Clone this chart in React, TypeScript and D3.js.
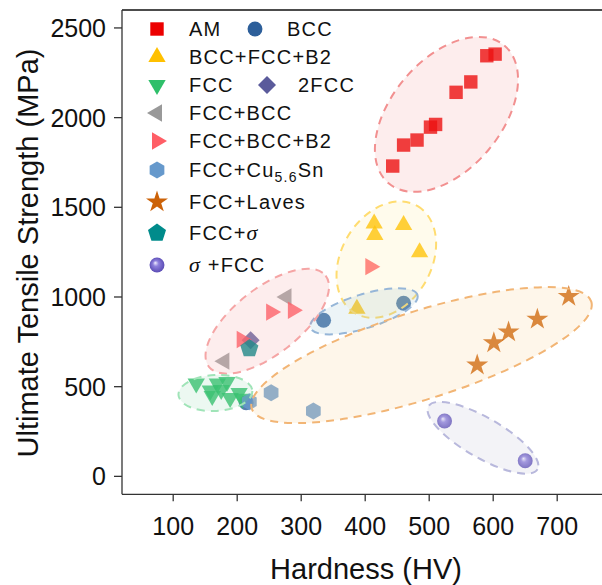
import * as d3 from 'd3'

const W = 602
const H = 585
const FONT = '"Liberation Sans", Arial, sans-serif'

// axes
const X_DOMAIN = [20, 780]
const Y_DOMAIN = [-100, 2600]
const X_TICKS = [100, 200, 300, 400, 500, 600, 700]
const Y_TICKS = [0, 500, 1000, 1500, 2000, 2500]

// series values (HV, MPa)
const AM_HV = [443, 460, 481, 502, 510, 542, 565, 590, 603]
const AM_UTS = [1730, 1847, 1875, 1947, 1962, 2141, 2199, 2345, 2354]
const BCC_HV = [214, 335, 460]
const BCC_UTS = [410, 870, 965]
const BFB2_HV = [414, 415, 460, 485, 387]
const BFB2_UTS = [1410, 1346, 1401, 1249, 935]
const FCC_HV = [136, 158, 169, 184, 161, 175, 189, 203, 208]
const FCC_UTS = [518, 479, 518, 526, 448, 482, 437, 465, 432]
const FCC2_HV = [221]
const FCC2_UTS = [759]
const FB_HV = [277, 180]
const FB_UTS = [1000, 642]
const FBB2_HV = [207, 253, 287, 408]
const FBB2_UTS = [763, 916, 926, 1169]
const CUSN_HV = [219, 253, 319]
const CUSN_UTS = [416, 466, 365]
const LAVES_HV = [575, 601, 624, 669, 718]
const LAVES_UTS = [620, 744, 805, 876, 1003]
const FSIG_HV = [219]
const FSIG_UTS = [713]
const SIGF_HV = [524, 650]
const SIGF_UTS = [309, 87]

// group outlines: centre in data units, radii (px) and tilt (deg)
const GROUP_HV = [527, 433, 398, 247, 166, 488, 584]
const GROUP_UTS = [2018, 1208, 920, 865, 465, 676, 215]
const GROUP_RX = [90, 62, 56, 74, 37, 178, 63]
const GROUP_RY = [55, 45, 17, 33, 18, 44, 20]
const GROUP_TILT = [-50, -60, -17, -38, -3, -17.5, 30]
const GROUP_FILL = ['#f08080', '#ffe066', '#88b8cc', '#f08080', '#80d0a0', '#f8b860', '#a0a0c0']
const GROUP_FILL_OP = [0.14, 0.12, 0.16, 0.14, 0.15, 0.13, 0.12]
const GROUP_STROKE = ['#f29090', '#ffdc70', '#96b6d8', '#f5a5a5', '#a0e4b8', '#f2b575', '#b8b8dc']

const x = d3.scaleLinear().domain(X_DOMAIN).range([122, 122 + 760 * 0.64])
const y = d3.scaleLinear().domain(Y_DOMAIN).range([494.3, 10])

// regular polygon path, r = circumradius, rot in degrees
function poly(n: number, r: number, rot: number) {
  const pts: [number, number][] = d3.range(n).map((i) => {
    const a = ((rot + (360 / n) * i) * Math.PI) / 180
    return [Math.cos(a) * r, Math.sin(a) * r]
  })
  return d3.line()(pts) + 'Z'
}

const SHAPES: Record<string, string> = {
  square: d3.symbol(d3.symbolSquare, 180)()!,
  circle: d3.symbol(d3.symbolCircle, 175)()!,
  up: poly(3, 10, -90),
  down: poly(3, 10, 90),
  left: poly(3, 10, 180),
  right: poly(3, 10, 0),
  diamond: poly(4, 9, 0),
  hex: poly(6, 8.5, -90),
  star: d3.symbol(d3.symbolStar, 150)()!,
  pent: poly(5, 9.5, -90),
  sphere: d3.symbol(d3.symbolCircle, 175)()!,
}

const SERIES = [
  { name: 'AM', shape: 'square', color: '#ec0000', hv: AM_HV, uts: AM_UTS },
  { name: 'BCC', shape: 'circle', color: '#2d5f9a', hv: BCC_HV, uts: BCC_UTS },
  { name: 'BCC+FCC+B2', shape: 'up', color: '#ffc000', hv: BFB2_HV, uts: BFB2_UTS },
  { name: 'FCC', shape: 'down', color: '#2fbf6a', hv: FCC_HV, uts: FCC_UTS },
  { name: '2FCC', shape: 'diamond', color: '#5b5b9b', hv: FCC2_HV, uts: FCC2_UTS },
  { name: 'FCC+BCC', shape: 'left', color: '#999999', hv: FB_HV, uts: FB_UTS },
  { name: 'FCC+BCC+B2', shape: 'right', color: '#ff5e66', hv: FBB2_HV, uts: FBB2_UTS },
  { name: 'FCC+Cu5.6Sn', shape: 'hex', color: '#6699cc', hv: CUSN_HV, uts: CUSN_UTS },
  { name: 'FCC+Laves', shape: 'star', color: '#cc6208', hv: LAVES_HV, uts: LAVES_UTS },
  { name: 'FCC+σ', shape: 'pent', color: '#008b8b', hv: FSIG_HV, uts: FSIG_UTS },
  { name: 'σ+FCC', shape: 'sphere', color: '#6a5acd', hv: SIGF_HV, uts: SIGF_UTS },
]

// legend slots: [series index, marker x, text x, row centre y]
const LEGEND = [
  [0, 157, 189, 29], [1, 255, 287, 29],
  [2, 157, 189, 57],
  [3, 157, 189, 85], [4, 267, 298, 85],
  [5, 157, 189, 113],
  [6, 157, 189, 141],
  [7, 157, 189, 170],
  [8, 157, 189, 202],
  [9, 157, 189, 233],
  [10, 157, 189, 265],
]

function Marker({ s, cx, cy, op = 1 }: any) {
  return (
    <path
      d={SHAPES[s.shape]}
      transform={`translate(${cx},${cy})`}
      fill={s.shape === 'sphere' ? 'url(#sphere)' : s.color}
      opacity={op}
    />
  )
}

function LegendText({ name, tx, ty }: any) {
  const sig = { fontFamily: '"Liberation Serif", serif', fontStyle: 'italic' }
  let content: any = name
  if (name === 'FCC+Cu5.6Sn') {
    content = (
      <>
        FCC+Cu<tspan fontSize={14} dy={5}>5.6</tspan><tspan dy={-5}>Sn</tspan>
      </>
    )
  } else if (name === 'FCC+σ') {
    content = (
      <>
        FCC+<tspan style={sig} fontSize={22}>σ</tspan>
      </>
    )
  } else if (name === 'σ+FCC') {
    content = (
      <>
        <tspan style={sig} fontSize={22}>σ</tspan> +FCC
      </>
    )
  }
  return (
    <text x={tx} y={ty + 7} fontSize={20} letterSpacing={1.2} fill="#111">
      {content}
    </text>
  )
}

export default function App() {
  const [x0] = x.range()
  const [yb, yt] = y.range()
  return (
    <svg
      width={W}
      height={H}
      style={{ position: 'absolute', left: 0, top: 0, background: '#fff' }}
      fontFamily={FONT}
    >
      <defs>
        <radialGradient id="sphere" cx="0.5" cy="0.5" r="0.55" fx="0.38" fy="0.35">
          <stop offset="0" stopColor="#f2efff" />
          <stop offset="0.35" stopColor="#8d7fdc" />
          <stop offset="1" stopColor="#5546b0" />
        </radialGradient>
      </defs>

      {/* markers */}
      {SERIES.map((s) =>
        s.hv.map((h, i) => (
          <Marker key={s.name + i} s={s} cx={x(h)} cy={y(s.uts[i])} op={0.8} />
        ))
      )}

      {/* dashed group outlines, drawn over the markers */}
      {GROUP_HV.map((h, i) => (
        <ellipse
          key={i}
          cx={0}
          cy={0}
          rx={GROUP_RX[i]}
          ry={GROUP_RY[i]}
          transform={`translate(${x(h)},${y(GROUP_UTS[i])}) rotate(${GROUP_TILT[i]})`}
          fill={GROUP_FILL[i]}
          fillOpacity={GROUP_FILL_OP[i]}
          stroke={GROUP_STROKE[i]}
          strokeWidth={2}
          strokeDasharray="8,6"
        />
      ))}

      {/* axes */}
      <line x1={x0} x2={W} y1={yt} y2={yt} stroke="#111" strokeWidth={1.5} />
      <line x1={x0} x2={x0} y1={yt} y2={yb} stroke="#333" strokeWidth={1.3} />
      <line x1={x0} x2={W} y1={yb} y2={yb} stroke="#333" strokeWidth={1.3} />
      {Y_TICKS.map((t) => (
        <g key={t}>
          <line x1={x0 - 8} x2={x0} y1={y(t)} y2={y(t)} stroke="#333" strokeWidth={1.3} />
          <text x={106} y={y(t) + 9} textAnchor="end" fontSize={25} fill="#111">
            {t}
          </text>
        </g>
      ))}
      {X_TICKS.map((t) => (
        <g key={t}>
          <line x1={x(t)} x2={x(t)} y1={yb} y2={yb + 7} stroke="#333" strokeWidth={1.3} />
          <text x={x(t)} y={535} textAnchor="middle" fontSize={25} fill="#111">
            {t}
          </text>
        </g>
      ))}
      <text x={366} y={579} textAnchor="middle" fontSize={29} fill="#111">
        Hardness (HV)
      </text>
      <text
        transform={`translate(38,253) rotate(-90)`}
        textAnchor="middle"
        fontSize={29}
        fill="#111"
      >
        Ultimate Tensile Strength (MPa)
      </text>

      {/* legend */}
      {LEGEND.map(([si, mx, tx, ty]) => {
        const s = SERIES[si]
        return (
          <g key={s.name}>
            <Marker s={s} cx={mx} cy={ty} />
            <LegendText name={s.name} tx={tx} ty={ty} />
          </g>
        )
      })}
    </svg>
  )
}
